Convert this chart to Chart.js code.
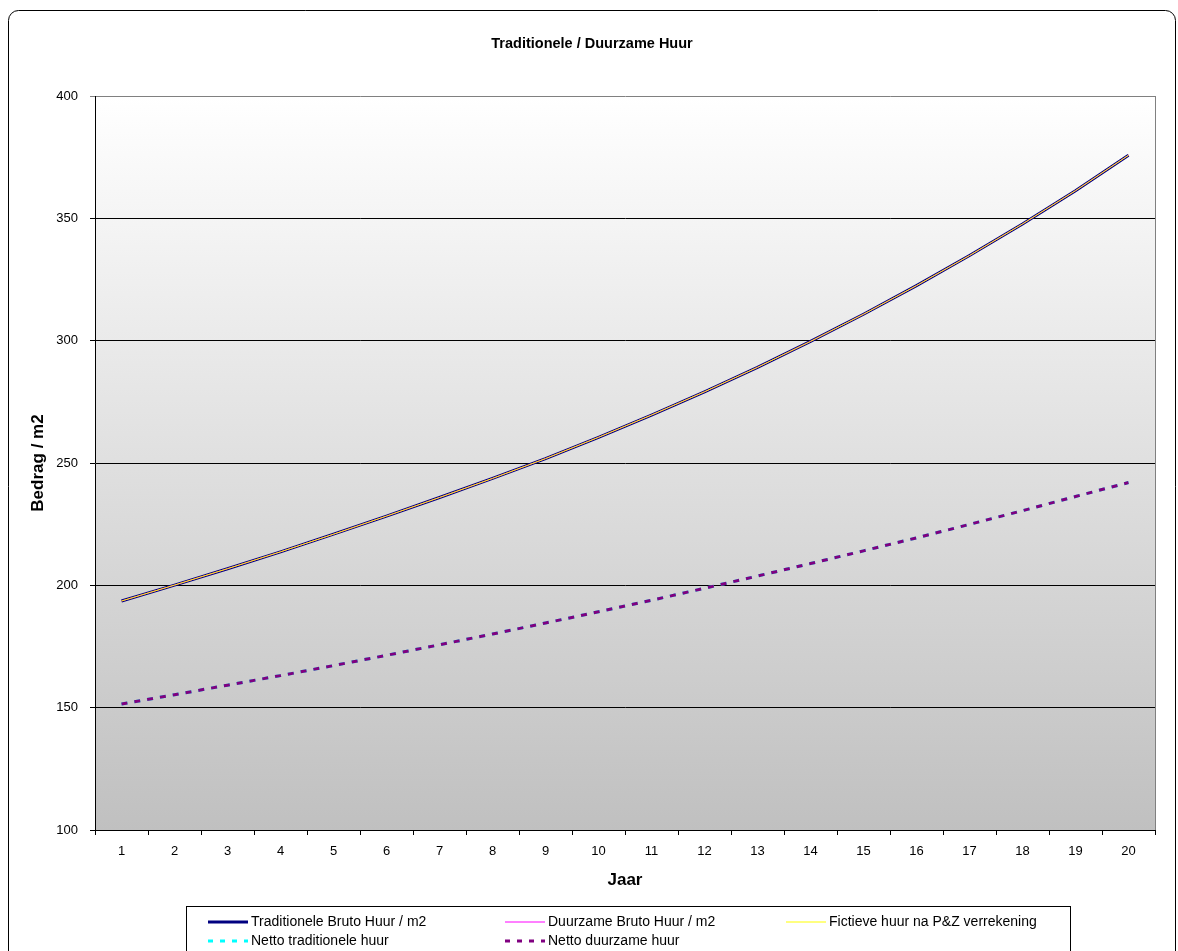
<!DOCTYPE html>
<html lang="nl">
<head>
<meta charset="utf-8">
<title>Traditionele / Duurzame Huur</title>
<script src="https://cdn.jsdelivr.net/npm/chart.js"></script>
<style>
  html, body { margin: 0; padding: 0; background: #fff; }
  #wrap { width: 1178px; height: 951px; position: relative; }
</style>
</head>
<body>
<div id="wrap"><canvas id="myChart" width="1178" height="951"></canvas></div>
<script>
  // jaren op de x-as
  const jaren = ['1','2','3','4','5','6','7','8','9','10','11','12','13','14','15','16','17','18','19','20'];

  const tradBruto = [193.6, 200.1, 206.8, 213.7, 220.9, 228.3, 235.9, 243.7, 251.8, 260.5,
                     269.6, 279.1, 289.1, 299.7, 310.8, 322.5, 334.8, 347.7, 361.3, 375.8];
  const duurzaamBruto = [193.6, 200.1, 206.8, 213.7, 220.9, 228.3, 235.9, 243.7, 251.8, 260.5,
                         269.6, 279.1, 289.1, 299.7, 310.8, 322.5, 334.8, 347.7, 361.3, 375.8];
  const fictieveHuur = [193.6, 200.1, 206.8, 213.7, 220.9, 228.3, 235.9, 243.7, 251.8, 260.5,
                        269.6, 279.1, 289.1, 299.7, 310.8, 322.5, 334.8, 347.7, 361.3, 375.8];
  const nettoTrad = [151.5, 155.3, 159.2, 163.1, 167.2, 171.4, 175.7, 180.1, 184.6, 189.2,
                     193.9, 198.8, 203.8, 208.9, 214.1, 219.4, 224.9, 230.5, 236.3, 242.0];
  const nettoDuurzaam = [151.5, 155.3, 159.2, 163.1, 167.2, 171.4, 175.7, 180.1, 184.6, 189.2,
                         193.9, 198.8, 203.8, 208.9, 214.1, 219.4, 224.9, 230.5, 236.3, 242.0];

  const yTicks = [100, 150, 200, 250, 300, 350, 400];

  const FONT = 'Arial, "Liberation Sans", sans-serif';

  // legenda: [label, kleur, dikte, streep, kolom x, rij y]
  const legendItems = [
    ['Traditionele Bruto Huur / m2', '#000080', 3, [], 208, 922],
    ['Duurzame Bruto Huur / m2', '#ff00ff', 1, [], 505, 922],
    ['Fictieve huur na P&Z verrekening', '#ffff00', 1, [], 786, 922],
    ['Netto traditionele huur', '#00ffff', 3, [5, 7], 208, 941],
    ['Netto duurzame huur', '#800080', 3, [5, 7], 505, 941]
  ];

  const decor = {
    id: 'decor',
    beforeDraw(chart) {
      const c = chart.ctx, a = chart.chartArea;
      c.save();
      c.fillStyle = '#fff';
      c.fillRect(0, 0, chart.width, chart.height);
      // afgeronde rand om de grafiek
      c.strokeStyle = '#000';
      c.lineWidth = 1;
      c.beginPath();
      c.roundRect(8.5, 10.5, 1167, 960, 10);
      c.stroke();
      // verloop in plotgebied
      const g = c.createLinearGradient(0, a.top, 0, a.bottom);
      g.addColorStop(0, '#ffffff');
      g.addColorStop(1, '#c0c0c0');
      c.fillStyle = g;
      c.fillRect(a.left, a.top, a.right - a.left, a.bottom - a.top);
      c.restore();
    },
    afterDatasetsDraw(chart) {
      const c = chart.ctx, a = chart.chartArea;
      c.save();
      // rechter rand grijs
      c.strokeStyle = '#808080';
      c.lineWidth = 1;
      c.beginPath();
      c.moveTo(Math.round(a.right) + 0.5, a.top);
      c.lineTo(Math.round(a.right) + 0.5, a.bottom);
      c.stroke();

      c.fillStyle = '#000';
      c.textAlign = 'center';
      c.textBaseline = 'middle';
      c.font = 'bold 14.5px ' + FONT;
      c.fillText('Traditionele / Duurzame Huur', 592, 44);
      c.font = 'bold 17px ' + FONT;
      c.fillText('Jaar', (a.left + a.right) / 2, 880);
      c.translate(38, (a.top + a.bottom) / 2);
      c.rotate(-Math.PI / 2);
      c.fillText('Bedrag / m2', 0, 0);
      c.restore();

      // legenda
      c.save();
      c.strokeStyle = '#000';
      c.lineWidth = 1;
      c.strokeRect(186.5, 906.5, 884, 60);
      c.font = '14px ' + FONT;
      c.textAlign = 'left';
      c.textBaseline = 'middle';
      legendItems.forEach(it => {
        const [label, kleur, dikte, streep, x, y] = it;
        c.strokeStyle = kleur;
        c.lineWidth = dikte;
        c.setLineDash(streep);
        c.beginPath();
        c.moveTo(x, y);
        c.lineTo(x + 40, y);
        c.stroke();
        c.setLineDash([]);
        c.fillStyle = '#000';
        c.fillText(label, x + 43, y);
      });
      c.restore();
    }
  };

  const ctx = document.getElementById('myChart').getContext('2d');
  const chart = new Chart(ctx, {
    type: 'line',
    data: {
      labels: jaren,
      datasets: [
        { label: 'Traditionele Bruto Huur / m2', data: tradBruto, borderColor: '#000080', borderWidth: 3, order: 5 },
        { label: 'Duurzame Bruto Huur / m2', data: duurzaamBruto, borderColor: '#ff00ff', borderWidth: 1, order: 4 },
        { label: 'Fictieve huur na P&Z verrekening', data: fictieveHuur, borderColor: '#ffff00', borderWidth: 1, order: 3 },
        { label: 'Netto traditionele huur', data: nettoTrad, borderColor: '#00ffff', borderWidth: 3, borderDash: [6, 7], order: 2 },
        { label: 'Netto duurzame huur', data: nettoDuurzaam, borderColor: '#800080', borderWidth: 3, borderDash: [6, 7], order: 1 }
      ]
    },
    options: {
      responsive: false,
      animation: false,
      devicePixelRatio: 1,
      layout: { padding: { left: 0, right: 23, top: 96, bottom: 0 } },
      elements: {
        point: { radius: 0, hoverRadius: 0 },
        line: { tension: 0, fill: false, borderCapStyle: 'butt' }
      },
      plugins: {
        legend: { display: false },
        title: { display: false },
        tooltip: { enabled: false }
      },
      scales: {
        x: {
          offset: true,
          afterFit: s => { s.height = 121; },
          grid: { offset: true, drawOnChartArea: false, drawTicks: true, tickLength: 5, color: '#000' },
          border: { color: '#000', width: 1 },
          ticks: { color: '#000', font: { family: FONT, size: 13 }, padding: 9, maxRotation: 0, autoSkip: false }
        },
        y: {
          min: 100,
          max: 400,
          afterFit: s => { s.width = 95; },
          afterBuildTicks: s => { s.ticks = yTicks.map(v => ({ value: v })); },
          grid: {
            color: c => (c.tick && c.tick.value === 400 ? '#808080' : '#000'),
            lineWidth: 1,
            tickLength: 5,
            drawTicks: true
          },
          border: { color: '#000', width: 1 },
          ticks: { color: '#000', font: { family: FONT, size: 13 }, padding: 12 }
        }
      }
    },
    plugins: [decor]
  });
</script>
</body>
</html>
